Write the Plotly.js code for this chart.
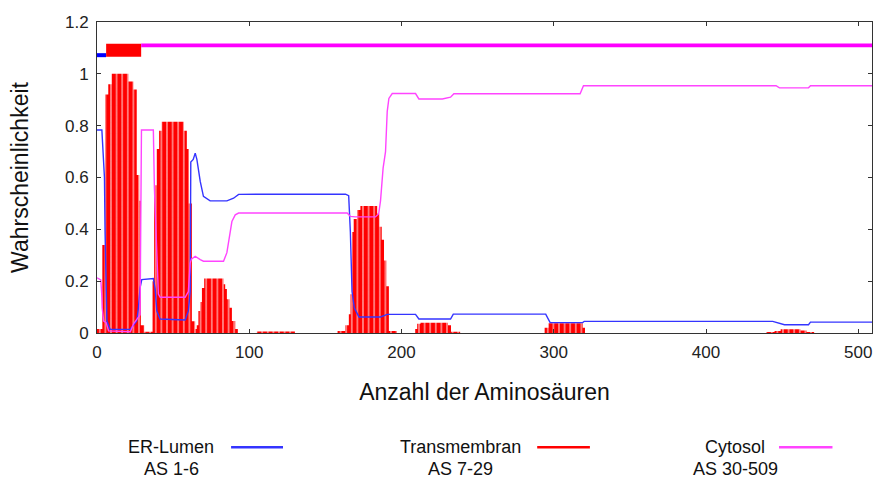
<!DOCTYPE html>
<html>
<head>
<meta charset="utf-8">
<script src="https://cdn.plot.ly/plotly-3.0.1.min.js"></script>
<style>html,body{margin:0;padding:0;background:#fff;}#chart{width:877px;height:482px;}</style>
</head>
<body>
<div id="chart"></div>
<script>
// ---- data ----
const regionNames = ['ER-Lumen', 'Transmembran', 'Cytosol'];
const topoStart = [1, 7, 30];
const topoEnd = [6, 29, 509];

// transmembrane probability (step vertices: value holds until next x)
const tmX = [0, 3.5, 5.3, 7.4, 9.6, 20.6, 23.9, 26.1, 27.8, 28.8, 31, 36.5, 37.5, 39.2, 40.8, 42.5, 57, 59, 60.3, 62.3, 64.5, 65.5, 66.6, 67.8, 68.9, 70.4, 83.1, 84.2, 85.3, 87, 88.6, 90.8, 92.5, 105, 130, 158, 163, 165.4, 166.5, 167.5, 168.6, 170.8, 173, 184, 185.5, 187, 188.5, 190, 191.7, 197, 209, 210.3, 212.5, 230.5, 232.5, 238.5, 294, 296.5, 319, 320.5, 439.5, 445, 449, 462, 466, 471, 509];
const tmY = [0.015, 0.34, 0.92, 0.96, 1.0, 0.97, 0.94, 0.61, 0.51, 0.03, 0.005, 0.2, 0.57, 0.71, 0.78, 0.815, 0.78, 0.71, 0.50, 0.045, 0.015, 0.03, 0.085, 0.12, 0.174, 0.21, 0.188, 0.17, 0.13, 0.097, 0.046, 0.015, 0, 0.006, 0, 0.008, 0.03, 0.072, 0.15, 0.39, 0.44, 0.475, 0.49, 0.46, 0.41, 0.36, 0.28, 0.18, 0.008, 0, 0.015, 0.036, 0.04, 0.03, 0.005, 0, 0.02, 0.038, 0.02, 0, 0.004, 0.008, 0.014, 0.01, 0.004, 0, 0];

// ER-Lumen (outside) probability
const erX = [0, 3.2, 3.6, 4.3, 4.9, 5.3, 6, 6.5, 8.6, 21.7, 23.9, 26.1, 27.2, 28.3, 29.4, 37, 38.2, 39.3, 41.4, 57.9, 60, 61.2, 61.6, 63.2, 64.5, 65.6, 67.8, 69.9, 74.3, 85.3, 89.7, 93, 163.2, 165.3, 166.4, 167.5, 169, 172, 186.2, 190.6, 209.2, 211.4, 232.2, 234, 294.7, 297.6, 319, 320, 443.8, 451.5, 467.3, 468.6, 509];
const erY = [0.783, 0.783, 0.74, 0.65, 0.60, 0.39, 0.136, 0.046, 0.014, 0.014, 0.03, 0.046, 0.097, 0.174, 0.206, 0.21, 0.17, 0.085, 0.054, 0.05, 0.085, 0.16, 0.66, 0.67, 0.694, 0.67, 0.585, 0.527, 0.51, 0.51, 0.52, 0.535, 0.536, 0.53, 0.39, 0.16, 0.097, 0.062, 0.062, 0.072, 0.072, 0.054, 0.054, 0.073, 0.073, 0.04, 0.04, 0.045, 0.045, 0.032, 0.032, 0.042, 0.042];

// Cytosol (inside) probability
const cyX = [0, 2.5, 3.1, 3.4, 4.4, 6, 7.6, 21.9, 24, 26.3, 28.3, 29.2, 37, 37.7, 38.8, 40.3, 41.5, 57.9, 60, 61.2, 62, 64.5, 67.8, 69.9, 83.1, 85.3, 88.6, 90.8, 93, 164.3, 166.4, 169.7, 182.9, 185, 186.2, 187.9, 189.5, 190.6, 191.7, 193.9, 209.2, 211.4, 226.8, 229, 232.2, 234.4, 317.3, 319.5, 446, 448.2, 467.3, 468.6, 509];
const cyY = [0.213, 0.205, 0.15, 0.097, 0.046, 0.04, 0.008, 0.005, 0.035, 0.054, 0.07, 0.783, 0.783, 0.56, 0.38, 0.15, 0.138, 0.138, 0.16, 0.27, 0.285, 0.296, 0.283, 0.277, 0.277, 0.31, 0.43, 0.456, 0.463, 0.463, 0.45, 0.448, 0.448, 0.46, 0.51, 0.636, 0.70, 0.854, 0.905, 0.924, 0.924, 0.903, 0.903, 0.905, 0.91, 0.923, 0.923, 0.954, 0.954, 0.946, 0.946, 0.954, 0.954];

const xTicks = [0, 100, 200, 300, 400, 500];
const yTicks = [0, 0.2, 0.4, 0.6, 0.8, 1, 1.2];

// ---- styles ----
const FONT = 'Liberation Sans, Arial, sans-serif';
const colors = ['#3434ff', '#ff0000', '#ff44ff'];
const topoColors = ['#0000ff', '#ff0000', '#ff00ff'];
const topoLevel = [1.072, 1.091, 1.110];
const topoWidth = [4, 13, 3.7];

const traces = [];
traces.push({
  x: tmX, y: tmY, type: 'scatter', mode: 'lines',
  line: {shape: 'hv', width: 0, color: '#ff0000'},
  fill: 'tozeroy', fillcolor: '#ff0000',
  fillpattern: {shape: '|', fgcolor: '#ffffff', bgcolor: '#ff0000', size: 5.6, solidity: 0.16},
  hoverinfo: 'skip', showlegend: false
});
traces.push({x: erX, y: erY, type: 'scatter', mode: 'lines', line: {color: colors[0], width: 1.4}, showlegend: false});
traces.push({x: cyX, y: cyY, type: 'scatter', mode: 'lines', line: {color: colors[2], width: 1.4}, showlegend: false});
for (let i = 0; i < 3; i++) {
  traces.push({
    x: [topoStart[i] - 1, topoEnd[i]], y: [topoLevel[i], topoLevel[i]],
    type: 'scatter', mode: 'lines',
    line: {color: topoColors[i], width: topoWidth[i]}, showlegend: false
  });
}

// legend (text on the left, sample line on the right)
const legendCenters = [0.0955, 0.4685, 0.8235];
const annotations = [];
const shapes = [];
for (let i = 0; i < 3; i++) {
  annotations.push({
    xref: 'paper', yref: 'paper', x: legendCenters[i], y: -0.3675,
    text: regionNames[i], showarrow: false, xanchor: 'center', yanchor: 'middle',
    font: {family: FONT, size: 18, color: '#111'}
  });
  annotations.push({
    xref: 'paper', yref: 'paper', x: legendCenters[i], y: -0.438,
    text: 'AS ' + topoStart[i] + '-' + topoEnd[i], showarrow: false, xanchor: 'center', yanchor: 'middle',
    font: {family: FONT, size: 18, color: '#111'}
  });
}
const sampleX = [[0.173, 0.240], [0.568, 0.636], [0.880, 0.949]];
for (let i = 0; i < 3; i++) {
  shapes.push({type: 'line', xref: 'paper', yref: 'paper', x0: sampleX[i][0], x1: sampleX[i][1], y0: -0.3675, y1: -0.3675,
    line: {color: colors[i], width: 2.5}});
}

const axisCommon = {
  showline: true, mirror: 'ticks', linecolor: '#333', linewidth: 1,
  ticks: 'inside', ticklen: 4, tickcolor: '#333', tickwidth: 1,
  showgrid: false, zeroline: false,
  tickfont: {family: FONT, size: 17, color: '#222'}
};

const layout = {
  width: 877, height: 482,
  margin: {l: 97, r: 5, t: 22, b: 149},
  paper_bgcolor: '#fff', plot_bgcolor: '#fff',
  showlegend: false,
  xaxis: Object.assign({}, axisCommon, {
    range: [0, 509], tickvals: xTicks, ticktext: xTicks.map(String),
    ticklabelstandoff: 4,
    title: {text: 'Anzahl der Aminosäuren', font: {family: FONT, size: 23, color: '#111'}, standoff: 22}
  }),
  yaxis: Object.assign({}, axisCommon, {
    range: [0, 1.2], tickvals: yTicks, ticktext: yTicks.map(String),
    ticklabelstandoff: 4,
    title: {text: 'Wahrscheinlichkeit', font: {family: FONT, size: 23, color: '#111'}, standoff: 29}
  }),
  annotations: annotations,
  shapes: shapes
};

Plotly.newPlot('chart', traces, layout, {staticPlot: true, displayModeBar: false});
</script>
</body>
</html>
